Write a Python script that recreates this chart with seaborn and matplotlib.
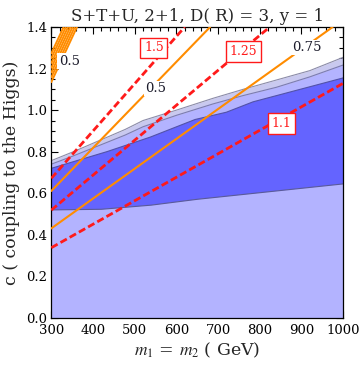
import numpy as np
import pandas as pd
import matplotlib
matplotlib.use("Agg")
import matplotlib.pyplot as plt
import seaborn as sns
from matplotlib.ticker import MultipleLocator

# --- region boundaries ---
outer_m = [300, 353, 477, 520, 600, 688, 760, 840, 920, 1000]
outer_c = [0.757, 0.800, 0.907, 0.950, 1.000, 1.057, 1.100, 1.145, 1.190, 1.254]

second_m = [300, 353, 477, 520, 600, 688, 760, 840, 920, 1000]
second_c = [0.740, 0.780, 0.880, 0.920, 0.975, 1.030, 1.070, 1.110, 1.160, 1.217]

dark_top_m = [300, 353, 433, 537, 645, 720, 784, 1000]
dark_top_c = [0.720, 0.752, 0.800, 0.870, 0.955, 0.990, 1.040, 1.155]

dark_bot_m = [300, 420, 540, 650, 1000]
dark_bot_c = [0.520, 0.523, 0.543, 0.571, 0.645]

# --- straight contour lines: (m, c) endpoints ---
red_names = ["1.5", "1.25", "1.1"]
red_m = [[300, 620], [300, 824], [300, 1000]]
red_c = [[0.672, 1.40], [0.519, 1.40], [0.338, 1.129]]
red_label_m = [546, 761, 853]
red_label_c = [1.300, 1.283, 0.935]

orange_names = ["0.5", "0.75"]
orange_m = [[300, 681], [300, 975]]
orange_c = [[0.611, 1.40], [0.431, 1.40]]
orange_label_m = [551, 913]
orange_label_c = [1.105, 1.301]

# bundle of steep orange lines in the upper-left corner
bundle_c0 = [1.135, 1.158, 1.181, 1.204, 1.227, 1.250, 1.273]
bundle_slope = 0.0043
bundle_label = ("0.5", 343, 1.235)

title = "S+T+U, 2+1, D( R) = 3, y = 1"
x_ticks = [300, 400, 500, 600, 700, 800, 900, 1000]
y_ticks = [0.0, 0.2, 0.4, 0.6, 0.8, 1.0, 1.2, 1.4]

sns.set_style("ticks")
plt.rcParams["font.family"] = ["DejaVu Serif"]
plt.rcParams["mathtext.fontset"] = "stix"

fig = plt.figure(figsize=(3.6, 3.65), dpi=100)
ax = fig.add_axes([0.1425, 0.1288, 0.8105, 0.7972])

# filled regions
ax.fill_between(outer_m, 0, outer_c, color="#c9c9ef", lw=0, zorder=1)
ax.fill_between(second_m, 0, second_c, color="#b3b3ff", lw=0, zorder=1.1)
ax.fill(list(dark_top_m) + dark_bot_m[::-1], list(dark_top_c) + dark_bot_c[::-1],
        color="#6464ff", lw=0, zorder=1.2)

edges = pd.DataFrame({"m": outer_m, "c": outer_c})
sns.lineplot(data=edges, x="m", y="c", ax=ax, color="#8c8ca8", lw=0.8, zorder=2)
edges = pd.DataFrame({"m": second_m, "c": second_c})
sns.lineplot(data=edges, x="m", y="c", ax=ax, color="#7c7cb0", lw=0.8, zorder=2)
edges = pd.DataFrame({"m": dark_top_m, "c": dark_top_c})
sns.lineplot(data=edges, x="m", y="c", ax=ax, color="#5252a8", lw=0.8, zorder=2)
edges = pd.DataFrame({"m": dark_bot_m, "c": dark_bot_c})
sns.lineplot(data=edges, x="m", y="c", ax=ax, color="#5a5a9a", lw=0.8, zorder=2)

# orange contours
for ms, cs in zip(orange_m, orange_c):
    sns.lineplot(x=ms, y=cs, ax=ax, color="#ff8c00", lw=1.5, zorder=3)
for c0 in bundle_c0:
    m_top = 300 + (1.4 - c0) / bundle_slope
    sns.lineplot(x=[300, m_top], y=[c0, 1.4], ax=ax, color="#ff8c00", lw=1.4, zorder=3)

# red dashed contours
for ms, cs in zip(red_m, red_c):
    sns.lineplot(x=ms, y=cs, ax=ax, color="#ff1a1a", lw=2.0,
                 linestyle=(0, (2.6, 1.2)), zorder=3.5)

# labels
for name, mx, cy in zip(red_names, red_label_m, red_label_c):
    ax.text(mx, cy, name, color="#ff1a1a", fontsize=9, ha="center", va="center",
            zorder=5, bbox=dict(boxstyle="square,pad=0.3", fc="white", ec="#ff1a1a", lw=1.0))
for name, mx, cy in zip(orange_names, orange_label_m, orange_label_c):
    ax.text(mx, cy, name, color="#1a1a2a", fontsize=9.5, ha="center", va="center",
            zorder=5, bbox=dict(boxstyle="square,pad=0.1", fc="white", ec="none"))
ax.text(bundle_label[1], bundle_label[2], bundle_label[0], color="#1a1a2a", fontsize=9.5,
        ha="center", va="center", zorder=5,
        bbox=dict(boxstyle="square,pad=0.1", fc="white", ec="none"))

ax.set_xlim(300, 1000)
ax.set_ylim(0, 1.4)
ax.set_xticks(x_ticks)
ax.set_yticks(y_ticks)
ax.set_xticklabels([str(t) for t in x_ticks])
ax.set_yticklabels([f"{t:.1f}" for t in y_ticks])
ax.xaxis.set_minor_locator(MultipleLocator(20))
ax.yaxis.set_minor_locator(MultipleLocator(0.05))
ax.tick_params(which="both", direction="in", top=True, right=True, width=0.8,
               colors="black", labelsize=9.5)
ax.tick_params(axis="x", pad=4)
ax.tick_params(axis="y", pad=3)
ax.tick_params(which="major", length=5)
ax.tick_params(which="minor", length=3)
for sp in ax.spines.values():
    sp.set_linewidth(0.9)
    sp.set_color("black")

ax.set_title(title, fontsize=12, pad=4)
ax.set_xlabel(r"$m_1$ = $m_2$ ( GeV)", fontsize=12.5, labelpad=3)
ax.set_ylabel("c ( coupling to the Higgs)", fontsize=12.5, labelpad=4)

fig.savefig("out.png", dpi=100)
